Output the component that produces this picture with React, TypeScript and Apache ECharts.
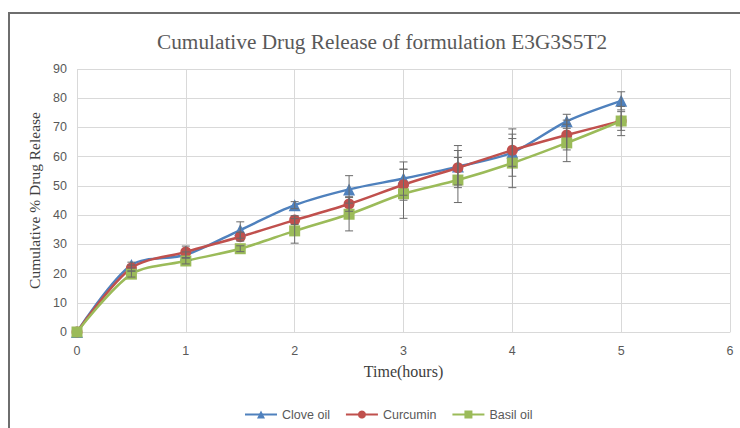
import React, { useEffect, useRef } from "react";
import * as echarts from "echarts";

const titleText = "Cumulative Drug Release of formulation E3G3S5T2";
const xName = "Time(hours)";
const yName = "Cumulative % Drug Release";
const seriesNames = ["Clove oil", "Curcumin", "Basil oil"];
const time = [0, 0.5, 1, 1.5, 2, 2.5, 3, 3.5, 4, 4.5, 5];
const clove = [0, 22.9, 26.4, 34.9, 43.4, 48.8, 52.5, 56.6, 61.4, 72.1, 79.1];
const curcumin = [0, 21.9, 27.4, 32.6, 38.3, 43.8, 50.4, 56.2, 62.2, 67.4, 72.2];
const basil = [0, 19.8, 24.3, 28.5, 34.6, 40.3, 47.3, 52.0, 57.8, 64.7, 72.2];
const cloveErr = [0, 1, 1, 2.8, 1.2, 4.7, 5.7, 7.2, 8.1, 2.4, 3.1];
const curcuminErr = [0, 1, 2, 1.5, 1.5, 2.5, 5.3, 5.9, 5.5, 5.1, 5];
const basilErr = [0, 1, 1, 1, 4.2, 5.7, 8.4, 7.7, 8.4, 6.4, 3.2];

const colors = ["#4f81bd", "#c0504d", "#9bbb59"];
const symbols = ["triangle", "circle", "rect"];

export default function App() {
  const ref = useRef<HTMLDivElement>(null);
  useEffect(() => {
    if (!ref.current) return;
    const chart = echarts.init(ref.current, null, { renderer: "svg" });
    const values = [clove, curcumin, basil];
    const errs = [cloveErr, curcuminErr, basilErr];
    const lineSeries = values.map((vals, i) => ({
      name: seriesNames[i],
      type: "line",
      smooth: 0.3,
      data: time.map((t, j) => [t, vals[j]]),
      symbol: symbols[i],
      symbolSize: i === 0 ? 12 : 11,
      lineStyle: { width: 2.5, color: colors[i] },
      itemStyle: { color: colors[i] },
      z: 3,
    }));
    const errSeries = values.map((vals, i) => ({
      name: seriesNames[i] + " err",
      type: "custom",
      data: time
        .map((t, j) => [t, vals[j] - errs[i][j], vals[j] + errs[i][j]])
        .filter((d, j) => errs[i][j] > 0),
      encode: { x: 0, y: [1, 2] },
      z: 4,
      silent: true,
      renderItem: (params: any, api: any) => {
        const x = api.value(0);
        const lo = api.coord([x, api.value(1)]);
        const hi = api.coord([x, api.value(2)]);
        const st = { stroke: "#6a6a6a", lineWidth: 1 };
        const w = 4;
        return {
          type: "group",
          children: [
            { type: "line", shape: { x1: lo[0], y1: lo[1], x2: hi[0], y2: hi[1] }, style: st },
            { type: "line", shape: { x1: lo[0] - w, y1: lo[1], x2: lo[0] + w, y2: lo[1] }, style: st },
            { type: "line", shape: { x1: hi[0] - w, y1: hi[1], x2: hi[0] + w, y2: hi[1] }, style: st },
          ],
        };
      },
    }));
    chart.setOption({
      animation: false,
      backgroundColor: "#ffffff",
      title: {
        text: titleText,
        left: 152,
        top: 26,
        textStyle: {
          fontFamily: "Liberation Serif",
          fontSize: 21.3,
          fontWeight: "normal",
          color: "#595959",
        },
      },
      graphic: [
        { type: "line", shape: { x1: 8, y1: 13, x2: 740, y2: 13 }, style: { stroke: "#6e6e6e", lineWidth: 2 } },
        { type: "line", shape: { x1: 9, y1: 13, x2: 9, y2: 428 }, style: { stroke: "#6e6e6e", lineWidth: 2 } },
      ],
      legend: {
        data: seriesNames,
        left: 239,
        top: 403,
        itemWidth: 32,
        itemHeight: 10,
        itemGap: 15,
        textStyle: { fontFamily: "Liberation Sans", fontSize: 12.5, color: "#595959" },
      },
      grid: { left: 77, right: 10, top: 69, bottom: 96 },
      xAxis: {
        type: "value",
        min: 0,
        max: 6,
        interval: 1,
        name: xName,
        nameLocation: "middle",
        nameGap: 31,
        nameTextStyle: { fontFamily: "Liberation Serif", fontSize: 16, color: "#404040" },
        axisLine: { lineStyle: { color: "#d9d9d9" } },
        axisTick: { show: false },
        axisLabel: { fontFamily: "Liberation Sans", fontSize: 12.5, color: "#595959", margin: 12 },
        splitLine: { show: true, lineStyle: { color: "#d9d9d9" } },
      },
      yAxis: {
        type: "value",
        min: 0,
        max: 90,
        interval: 10,
        name: yName,
        nameLocation: "middle",
        nameGap: 32,
        nameTextStyle: { fontFamily: "Liberation Serif", fontSize: 15.5, color: "#404040" },
        axisLine: { show: false },
        axisTick: { show: false },
        axisLabel: { fontFamily: "Liberation Sans", fontSize: 12.5, color: "#595959", margin: 10 },
        splitLine: { show: true, lineStyle: { color: "#d9d9d9" } },
      },
      series: [...errSeries, ...lineSeries],
    });
    return () => chart.dispose();
  }, []);
  return (
    <div
      ref={ref}
      style={{ position: "fixed", left: 0, top: 0, width: 740, height: 428 }}
    />
  );
}
